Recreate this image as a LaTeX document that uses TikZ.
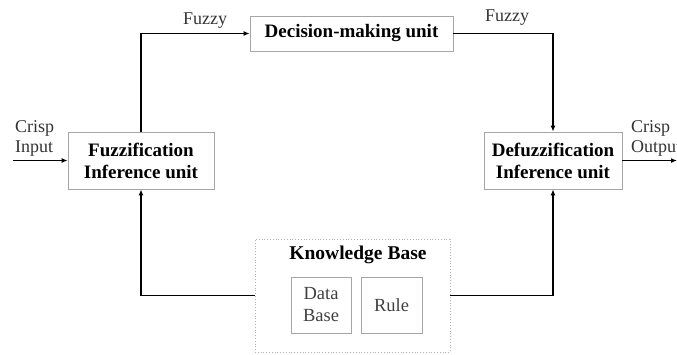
\documentclass[tikz,border=0pt]{standalone}
\usepackage{fontspec}
\setmainfont{Liberation Serif}
\usepackage{tikz}
\usetikzlibrary{arrows.meta, positioning}

\begin{document}
\begin{tikzpicture}[
  x=1pt, y=-1pt,
  unitbox/.style={draw=gray!70, line width=0.8pt, inner sep=0pt, align=center, font=\fontsize{19}{22}\selectfont\bfseries},
  kbpart/.style={draw=gray!70, line width=0.8pt, inner sep=0pt, align=center, minimum width=60pt, minimum height=56pt, font=\fontsize{18.5}{22}\selectfont, text=black!75},
  lbl/.style={inner sep=0pt, align=left, font=\fontsize{18}{20}\selectfont, text=black!80},
  flow/.style={line width=1.4pt, -{Latex[length=6pt, width=5pt]}},
  every node/.style={font=\small}
]
  \useasboundingbox (0,0) rectangle (677,354);

  % Units
  \node[unitbox, minimum width=146pt, minimum height=57pt] (fuzz) at (141,160.5) {Fuzzification\\Inference unit};
  \node[unitbox, minimum width=203pt, minimum height=35pt] (dec) at (351.5,33.5) {Decision-making unit};
  \node[unitbox, minimum width=138pt, minimum height=57pt] (defuzz) at (553,160.5) {Defuzzification\\Inference unit};

  % Knowledge base
  \node[draw=gray!60, dotted, line width=0.8pt, minimum width=195pt, minimum height=113pt, inner sep=0pt] (kb) at (352.5,295.5) {};
  \node[inner sep=0pt, font=\fontsize{19.5}{22}\selectfont\bfseries] (kbtitle) at (358,255) {Knowledge Base};
  \node[kbpart] (data) at (321,305) {Data\\Base};
  \node[kbpart, minimum width=61pt] (rule) at (391.5,305) {Rule};

  % Crisp in/out
  \coordinate (in) at (13,160.5);
  \coordinate (out) at (677,160.5);
  \node[lbl, anchor=west] (inlbl) at (15,138) {Crisp\\Input};
  \node[lbl, anchor=west] (outlbl) at (631,138) {Crisp\\Output};

  % Fuzzy labels
  \node[lbl] (fz1) at (205,21) {Fuzzy};
  \node[lbl] (fz2) at (507,18) {Fuzzy};

  % Connectors
  \draw[flow] (in) -- (fuzz.west);
  \draw[flow] (fuzz.north) |- (dec.west);
  \draw[flow] (dec.east) -| (defuzz.north);
  \draw[flow] (defuzz.east) -- (out);
  \draw[flow] (kb.west) -| (fuzz.south);
  \draw[flow] (kb.east) -| (defuzz.south);

\end{tikzpicture}
\end{document}
